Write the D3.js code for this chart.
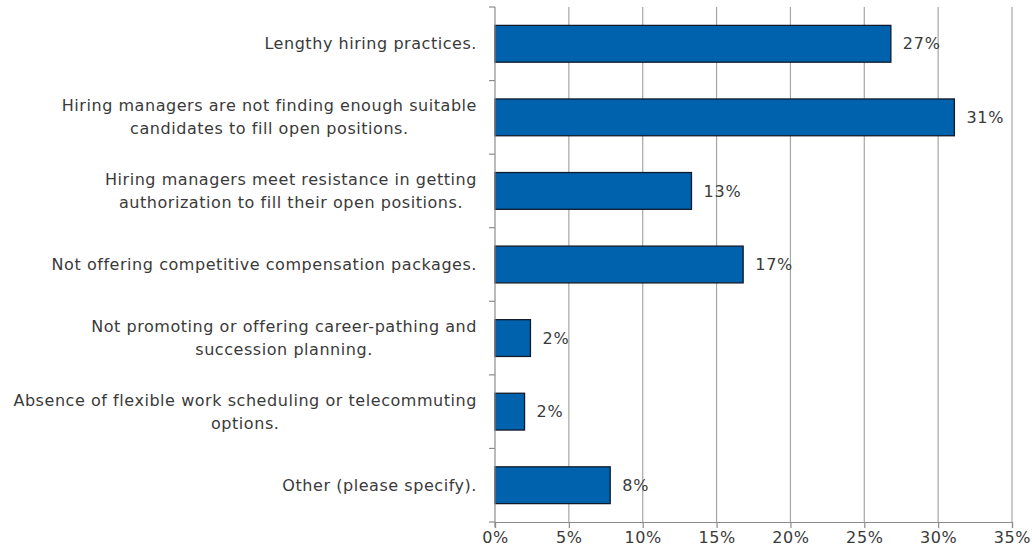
<!DOCTYPE html>
<html><head><meta charset="utf-8">
<script src="https://cdn.jsdelivr.net/npm/d3@7"></script>
<style>body{margin:0;background:#fff;}svg{display:block;}</style>
</head><body>
<script>
const categories = [
  ["Lengthy hiring practices."],
  ["Hiring managers are not finding enough suitable", "candidates to fill open positions."],
  ["Hiring managers meet resistance in getting", "authorization to fill their open positions."],
  ["Not offering competitive compensation packages."],
  ["Not promoting or offering career-pathing and", "succession planning."],
  ["Absence of flexible work scheduling or telecommuting", "options."],
  ["Other (please specify)."]
];
const values = [26.8, 31.1, 13.3, 16.8, 2.4, 2.0, 7.8];
const valueLabels = ["27%", "31%", "13%", "17%", "2%", "2%", "8%"];
const xTicks = [0, 5, 10, 15, 20, 25, 30, 35];
const xTickLabels = ["0%", "5%", "10%", "15%", "20%", "25%", "30%", "35%"];

(function () {
const W = 1032, H = 552;
const mLeft = 495, mRight = 1012, mTop = 7, mBottom = 522;
const font = "'DejaVu Sans', sans-serif";
const textColor = "#3a3a3a";

const svg = d3.select("body").append("svg").attr("width", W).attr("height", H);
const x = d3.scaleLinear().domain([0, 35]).range([mLeft, mRight]);
const y = d3.scaleBand().domain(d3.range(categories.length)).range([mTop, mBottom]).paddingInner(0.5).paddingOuter(0.25);
const yOuter = d3.scaleBand().domain(d3.range(categories.length)).range([mTop, mBottom]);

// gridlines
svg.append("g").selectAll("line").data(xTicks.slice(1)).join("line")
  .attr("x1", d => x(d)).attr("x2", d => x(d))
  .attr("y1", mTop).attr("y2", mBottom)
  .attr("stroke", "#a6a6a6").attr("stroke-width", 1.2);

// bars
svg.append("g").selectAll("rect").data(values).join("rect")
  .attr("x", x(0)).attr("y", (d, i) => y(i))
  .attr("width", d => x(d) - x(0)).attr("height", y.bandwidth())
  .attr("fill", "#0062ad").attr("stroke", "#111a2a").attr("stroke-width", 1.3);

// value labels
svg.append("g").selectAll("text").data(values).join("text")
  .attr("x", d => x(d) + 12).attr("y", (d, i) => y(i) + y.bandwidth() / 2)
  .attr("dy", "0.35em")
  .attr("font-family", font).attr("font-size", 16).attr("letter-spacing", 0.8).attr("fill", textColor)
  .text((d, i) => valueLabels[i]);

// y axis line & ticks
const yb = [mTop].concat(d3.range(categories.length).map(i => yOuter(i) + yOuter.bandwidth()));
svg.append("line").attr("x1", mLeft).attr("x2", mLeft).attr("y1", mTop).attr("y2", mBottom + 5)
  .attr("stroke", "#8c8c8c").attr("stroke-width", 1.2);
svg.append("g").selectAll("line").data(yb).join("line")
  .attr("x1", mLeft - 6).attr("x2", mLeft).attr("y1", d => d).attr("y2", d => d)
  .attr("stroke", "#8c8c8c").attr("stroke-width", 1.2);

// x axis
const xAxis = d3.axisBottom(x).tickValues(xTicks).tickSize(6).tickFormat((d, i) => xTickLabels[i]);
const gx = svg.append("g").attr("transform", `translate(0,${mBottom})`).call(xAxis);
gx.select(".domain").attr("stroke", "#8c8c8c").attr("stroke-width", 1.2);
gx.selectAll(".tick line").attr("stroke", "#8c8c8c").attr("stroke-width", 1.2);
gx.selectAll(".tick text").attr("font-family", font).attr("font-size", 16).attr("letter-spacing", 0.6)
  .attr("fill", textColor).attr("y", 10);

// category labels
const lh = 23;
categories.forEach((lines, i) => {
  const cy = yOuter(i) + yOuter.bandwidth() / 2;
  const g = svg.append("g");
  const t = g.append("text").attr("font-family", font).attr("font-size", 16)
    .attr("letter-spacing", 0.55).attr("fill", textColor);
  lines.forEach((ln, j) => {
    t.append("tspan").attr("text-anchor", "middle").attr("x", 0)
      .attr("y", cy + (j - (lines.length - 1) / 2) * lh).attr("dy", "0.35em").text(ln);
  });
  const bb = t.node().getBBox();
  g.attr("transform", `translate(${477 - (bb.x + bb.width)},0)`);
});
})();
</script>
</body></html>
